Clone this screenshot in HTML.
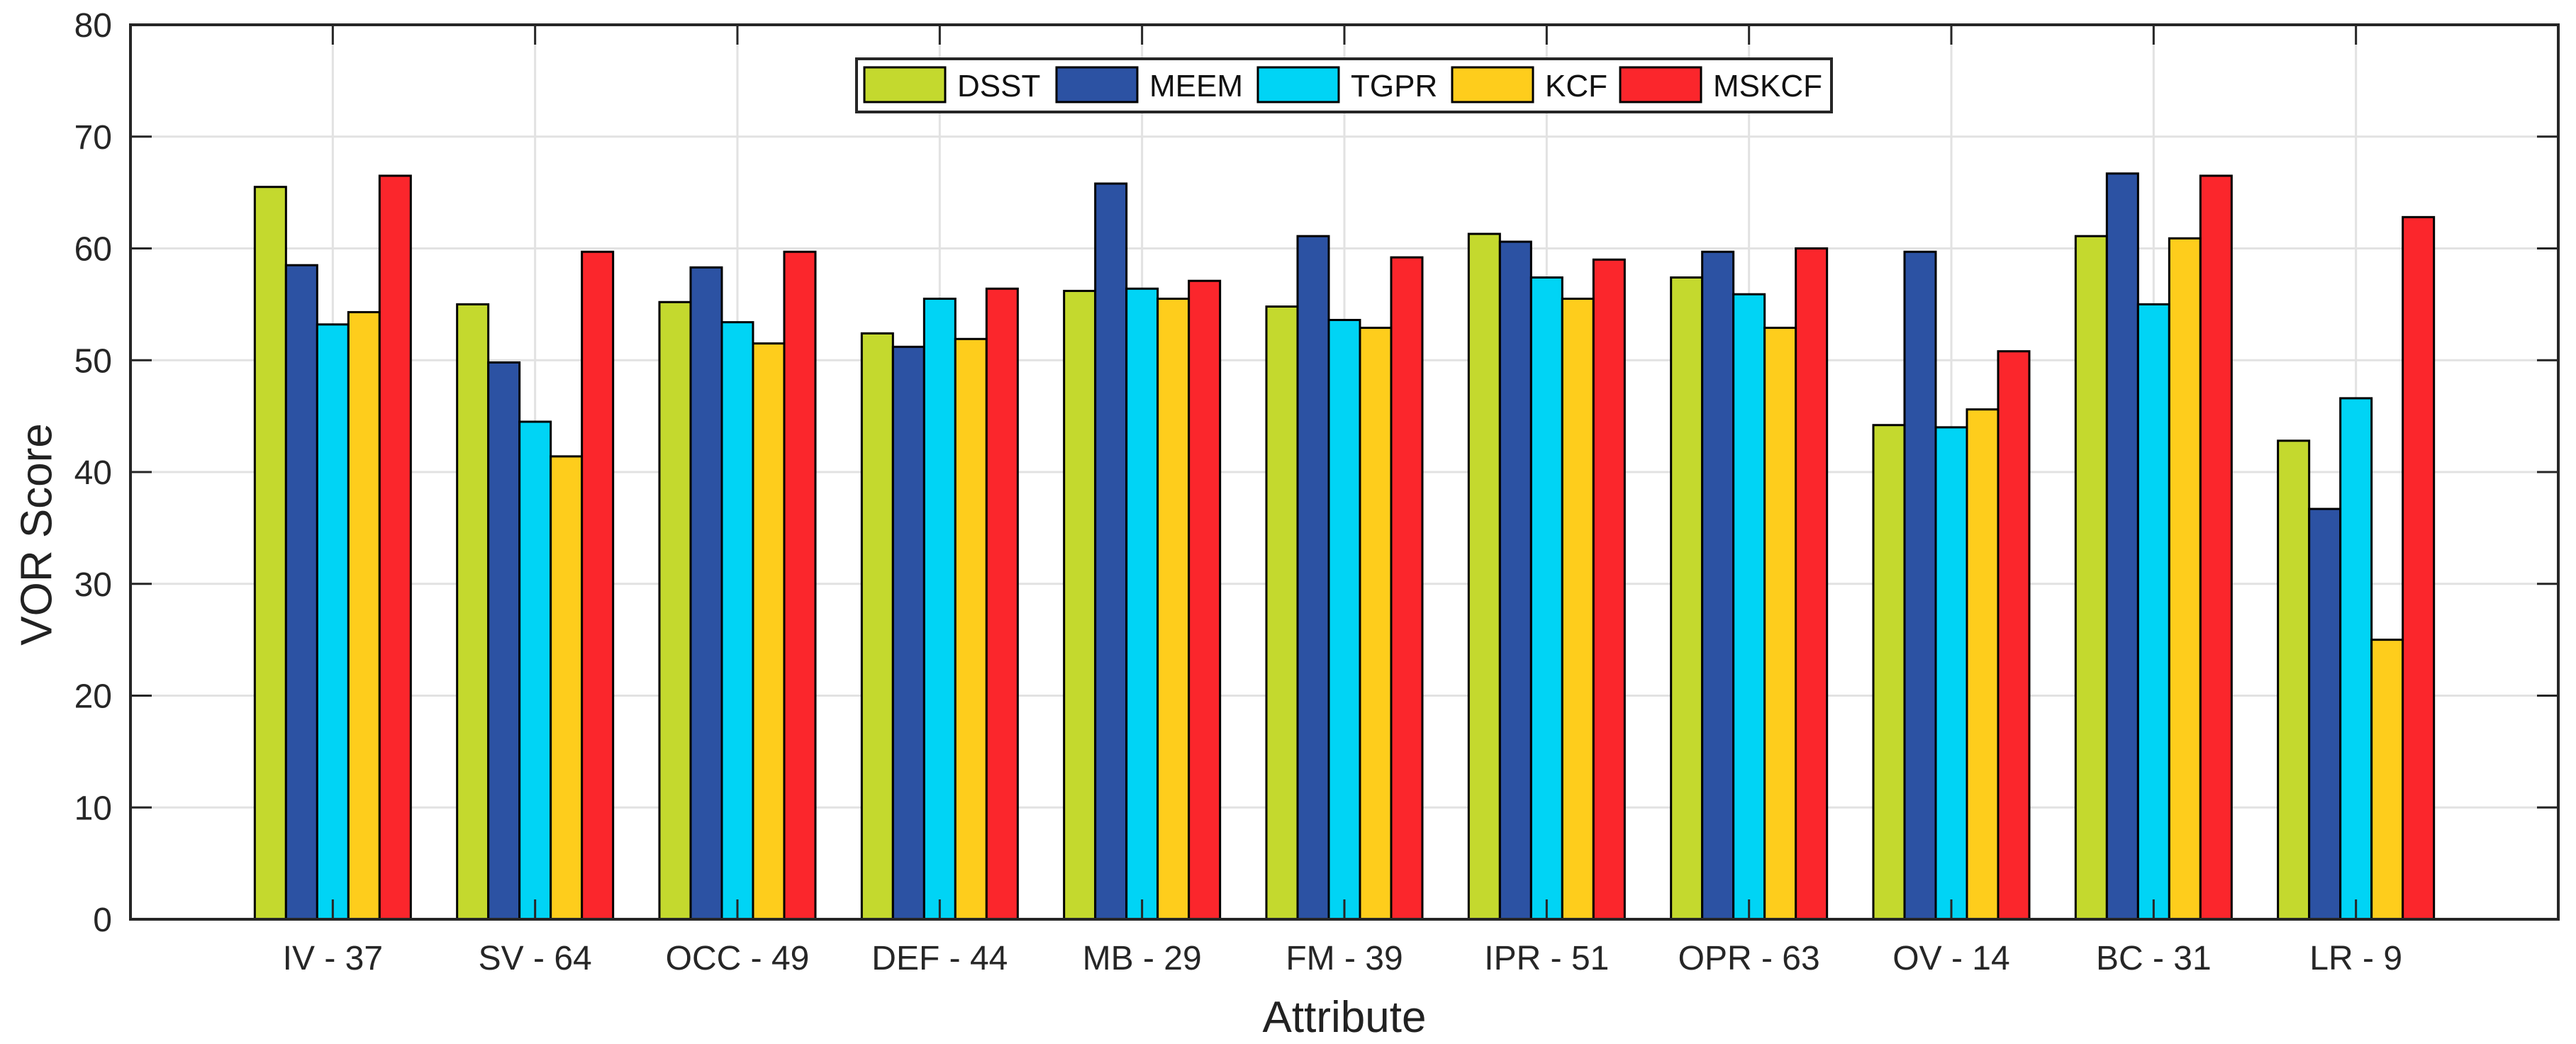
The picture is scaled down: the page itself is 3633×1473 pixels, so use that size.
<!DOCTYPE html>
<html><head><meta charset="utf-8"><style>
html,body{margin:0;padding:0;background:#fff;}
svg{display:block;font-family:"Liberation Sans",Arial,sans-serif;}
</style></head><body>
<svg id="chart" width="3633" height="1473" viewBox="0 0 3633 1473" xmlns="http://www.w3.org/2000/svg">
<rect x="0" y="0" width="3633" height="1473" fill="#fff"/>
<g id="grid"></g>
<g id="bars"></g>
<g id="axes"></g>
<text x="52" y="754" font-size="62" fill="#222" text-anchor="middle" transform="rotate(-90 52 754)" dominant-baseline="central">VOR Score</text>
<text x="1896" y="1456" font-size="62" fill="#222" text-anchor="middle">Attribute</text>
<g id="legend"></g>
</svg>
<script>
const categories = ["IV - 37","SV - 64","OCC - 49","DEF - 44","MB - 29","FM - 39","IPR - 51","OPR - 63","OV - 14","BC - 31","LR - 9"];
const seriesNames = ["DSST","MEEM","TGPR","KCF","MSKCF"];
const dsst  = [65.5,55.0,55.2,52.4,56.2,54.8,61.3,57.4,44.2,61.1,42.8];
const meem  = [58.5,49.8,58.3,51.2,65.8,61.1,60.6,59.7,59.7,66.7,36.7];
const tgpr  = [53.2,44.5,53.4,55.5,56.4,53.6,57.4,55.9,44.0,55.0,46.6];
const kcf   = [54.3,41.4,51.5,51.9,55.5,52.9,55.5,52.9,45.6,60.9,25.0];
const mskcf = [66.5,59.7,59.7,56.4,57.1,59.2,59.0,60.0,50.8,66.5,62.8];
const yTicks = [0,10,20,30,40,50,60,70,80];

const series = [dsst,meem,tgpr,kcf,mskcf];
const colors = ["#c4d92e","#2c52a3","#00d4f5","#fecd1c","#fb262c"];
const NS="http://www.w3.org/2000/svg";
const L=184,R=3608,T=35,B=1297;
const xMin=0,xMax=categories.length+1,yMin=0,yMax=80;
const xs=v=>L+(v-xMin)/(xMax-xMin)*(R-L);
const ys=v=>B-(v-yMin)/(yMax-yMin)*(B-T);
function mk(tag,attrs,parent){const e=document.createElementNS(NS,tag);for(const k in attrs)e.setAttribute(k,attrs[k]);parent.appendChild(e);return e;}
const grid=document.getElementById('grid'),bars=document.getElementById('bars'),axes=document.getElementById('axes'),legend=document.getElementById('legend');

yTicks.forEach(t=>{
  const g=mk('line',{x1:L,x2:R,y1:ys(t),y2:ys(t),stroke:'#e2e2e2','stroke-width':3},grid);
  
  
});
categories.forEach((c,i)=>{
  const g=mk('line',{x1:xs(i+1),x2:xs(i+1),y1:T,y2:B,stroke:'#e2e2e2','stroke-width':3},grid);
  
  
});

const barW=44;
categories.forEach((c,i)=>{
  const cx=xs(i+1);
  series.forEach((s,j)=>{
    const x=cx+(j-2.5)*barW;
    const r=mk('rect',{x:x,y:ys(s[i]),width:barW,height:ys(0)-ys(s[i]),fill:colors[j],stroke:'#000','stroke-width':3},bars);
    
    
  });
});

// box
const box=mk('rect',{x:L,y:T,width:R-L,height:B-T,fill:'none',stroke:'#262626','stroke-width':4},axes);


yTicks.forEach(t=>{
  const a=mk('line',{x1:L,x2:L+30,y1:ys(t),y2:ys(t),stroke:'#262626','stroke-width':3},axes);
  
  
  const b=mk('line',{x1:R-30,x2:R,y1:ys(t),y2:ys(t),stroke:'#262626','stroke-width':3},axes);
  
  
  const tx=mk('text',{x:158,y:ys(t)+17,'font-size':48,fill:'#262626','text-anchor':'end'},axes);
  tx.textContent=t;
  
  
});
categories.forEach((c,i)=>{
  const x=xs(i+1);
  const a=mk('line',{x1:x,x2:x,y1:B,y2:B-28,stroke:'#262626','stroke-width':3},axes);
  
  
  const b=mk('line',{x1:x,x2:x,y1:T,y2:T+28,stroke:'#262626','stroke-width':3},axes);
  
  
  const tx=mk('text',{x:x,y:1368,'font-size':48,fill:'#262626','text-anchor':'middle'},axes);
  tx.textContent=c;
  
  
});

// legend
const lb=mk('rect',{x:1208,y:83,width:1375,height:75,fill:'#fff',stroke:'#262626','stroke-width':4},legend);


const swX=[1219,1490,1774,2048,2285];
seriesNames.forEach((n,j)=>{
  const s=mk('rect',{x:swX[j],y:95,width:114,height:49,fill:colors[j],stroke:'#000','stroke-width':3},legend);
  
  
  const t=mk('text',{x:swX[j]+131,y:136,'font-size':44,fill:'#111'},legend);
  t.textContent=n;
  
  
});
</script>
</body></html>
